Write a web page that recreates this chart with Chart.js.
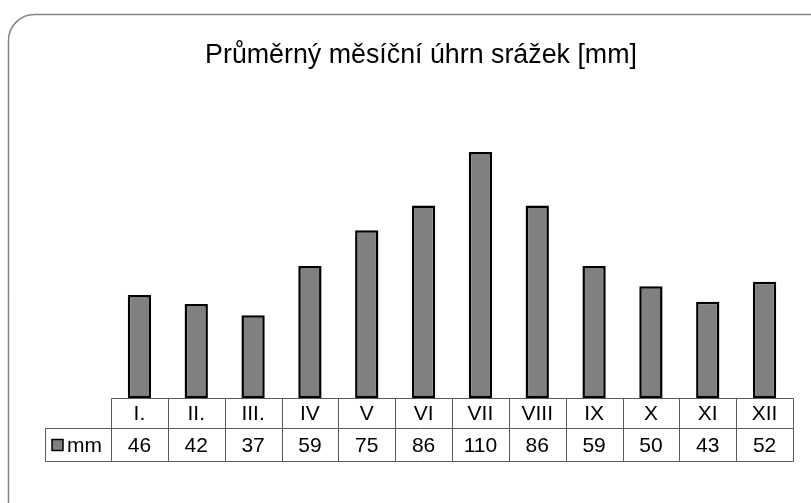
<!DOCTYPE html>
<html>
<head>
<meta charset="utf-8">
<script src="https://cdn.jsdelivr.net/npm/chart.js@4/dist/chart.umd.min.js"></script>
<style>
  html, body { margin: 0; padding: 0; background: #fff; }
  canvas { display: block; }
</style>
</head>
<body>
<canvas id="c" width="811" height="503"></canvas>
<script>
const chartTitle = "Průměrný měsíční úhrn srážek [mm]";
const seriesName = "mm";
const categories = ["I.", "II.", "III.", "IV", "V", "VI", "VII", "VIII", "IX", "X", "XI", "XII"];
const precipitation = [46, 42, 37, 59, 75, 86, 110, 86, 59, 50, 43, 52];

const FONT = "'Liberation Sans', Arial, sans-serif";
const ROW1 = 30, ROW2 = 33, LEGEND_LEFT = 45.5;

const framePlugin = {
  id: 'frame',
  beforeDraw(chart) {
    const ctx = chart.ctx;
    ctx.save();
    ctx.fillStyle = '#fff';
    ctx.fillRect(0, 0, chart.width, chart.height);
    ctx.beginPath();
    ctx.roundRect(8.5, 14.5, 830, 520, 26);
    ctx.strokeStyle = '#858585';
    ctx.lineWidth = 1.5;
    ctx.stroke();
    // title
    ctx.fillStyle = '#000';
    ctx.font = '26.8px ' + FONT;
    ctx.textAlign = 'center';
    ctx.textBaseline = 'alphabetic';
    ctx.fillText(chartTitle, 421, 63);
    ctx.restore();
  }
};

const tablePlugin = {
  id: 'dataTable',
  afterDraw(chart) {
    const ctx = chart.ctx;
    const x = chart.scales.x;
    const area = chart.chartArea;
    const top = Math.round(area.bottom) + 0.5;
    const mid = top + ROW1;
    const bot = mid + ROW2;
    const left = Math.round(area.left) + 0.5;
    const right = Math.round(area.right) + 0.5;
    const n = categories.length;
    const w = (area.right - area.left) / n;
    ctx.save();
    ctx.strokeStyle = '#5a5a5a';
    ctx.lineWidth = 1;
    ctx.beginPath();
    ctx.moveTo(left, top); ctx.lineTo(right, top);
    ctx.moveTo(LEGEND_LEFT, mid); ctx.lineTo(right, mid);
    ctx.moveTo(LEGEND_LEFT, bot); ctx.lineTo(right, bot);
    for (let i = 0; i <= n; i++) {
      const xx = Math.round(area.left + i * w) + 0.5;
      ctx.moveTo(xx, top); ctx.lineTo(xx, bot);
    }
    ctx.moveTo(LEGEND_LEFT, mid); ctx.lineTo(LEGEND_LEFT, bot);
    ctx.stroke();

    ctx.fillStyle = '#000';
    ctx.textAlign = 'center';
    ctx.textBaseline = 'middle';
    ctx.font = '21px ' + FONT;
    const data = chart.data.datasets[0].data;
    for (let i = 0; i < n; i++) {
      const cx = x.getPixelForValue(i);
      ctx.fillText(chart.data.labels[i], cx, (top + mid) / 2 + 1);
      ctx.fillText(String(data[i]), cx, (mid + bot) / 2 + 1);
    }
    const ky = (mid + bot) / 2;
    ctx.fillStyle = '#808080';
    ctx.fillRect(52, ky - 5.5, 11, 11);
    ctx.strokeStyle = '#000';
    ctx.lineWidth = 1.5;
    ctx.strokeRect(52, ky - 5.5, 11, 11);
    ctx.fillStyle = '#000';
    ctx.textAlign = 'left';
    ctx.fillText(chart.data.datasets[0].label, 67, ky + 1);
    ctx.restore();
  }
};

new Chart(document.getElementById('c'), {
  type: 'bar',
  data: {
    labels: categories,
    datasets: [{
      label: seriesName,
      data: precipitation,
      backgroundColor: '#808080',
      borderColor: '#000',
      borderWidth: 2.5,
      borderSkipped: false,
      categoryPercentage: 1,
      barPercentage: 0.41
    }]
  },
  options: {
    responsive: false,
    devicePixelRatio: 1,
    animation: false,
    layout: { padding: { left: 111, right: 18, top: 129.5, bottom: 105 } },
    scales: {
      x: { display: false },
      y: { display: false, min: 0, max: 120 }
    },
    plugins: {
      legend: { display: false },
      tooltip: { enabled: false },
      title: { display: false }
    }
  },
  plugins: [framePlugin, tablePlugin]
});
</script>
</body>
</html>
